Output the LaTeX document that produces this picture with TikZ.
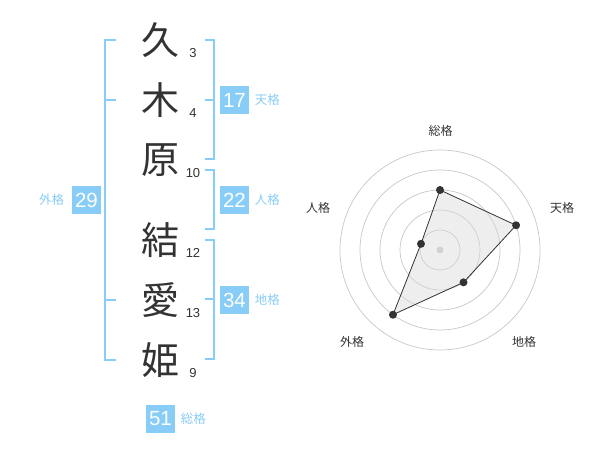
\documentclass[tikz,border=0pt]{standalone}
\usepackage{fontspec}
\setmainfont{Noto Sans CJK JP}
\newfontfamily\digits{Liberation Sans}
\usetikzlibrary{positioning,calc}
\definecolor{kakublue}{HTML}{88CCF8}
\definecolor{inkgray}{HTML}{333333}

\begin{document}
\begin{tikzpicture}[x=1pt,y=-1pt,thick]
        %
        % `kanji' is used for the name characters, `strokes' for their counts.
        % `score' is used for the blue boxes, `kaku' for their labels.
        % `dot' is used for the radar points.
        \tikzstyle{kanji} = [text=inkgray,font=\fontsize{38}{38}\selectfont,inner sep=0pt]
        \tikzstyle{strokes} = [text=inkgray,font=\digits\fontsize{13}{13}\selectfont,inner sep=0pt]
        \tikzstyle{score} = [fill=kakublue,text=white,font=\digits\fontsize{20.5}{20.5}\selectfont,minimum width=29pt,minimum height=28pt,inner sep=0pt]
        \tikzstyle{kaku} = [text=kakublue,font=\fontsize{12.5}{12.5}\selectfont,inner sep=0pt]
        \tikzstyle{bracket} = [draw=kakublue,line width=2pt]
        \tikzstyle{ring} = [draw=black!22,line width=0.7pt]
        \tikzstyle{axis} = [text=inkgray,font=\fontsize{12}{12}\selectfont,inner sep=0pt]
        \tikzstyle{dot} = [fill=inkgray,shape=circle,minimum size=8pt,inner sep=0pt]
        %
        \useasboundingbox (0,0) rectangle (600,470);
        %
        % Name
        \node[kanji] (k1) at (160,40) {久};
        \node[kanji] (k2) at (160,100) {木};
        \node[kanji] (k3) at (160,160) {原};
        \node[kanji] (k4) at (160,240) {結};
        \node[kanji] (k5) at (160,300) {愛};
        \node[kanji] (k6) at (160,360) {姫};
        %
        % Strokes
        \node[strokes] (n1) at (193,53) {3};
        \node[strokes] (n2) at (193,113) {4};
        \node[strokes] (n3) at (193,173) {10};
        \node[strokes] (n4) at (193,253) {12};
        \node[strokes] (n5) at (193,313) {13};
        \node[strokes] (n6) at (193,373) {9};
        %
        % Left bracket
        \draw[bracket] (116,40) -- (105,40) -- (105,360) -- (116,360);
        \draw[bracket] (105,100) -- (116,100);
        \draw[bracket] (105,300) -- (116,300);
        \node[score] (gai) at (86.5,200) {29};
        \node[kaku,left=7pt of gai] (gailabel) {外格};
        %
        % Right brackets
        \draw[bracket] (205,40) -- (214,40) -- (214,159) -- (205,159);
        \draw[bracket] (205,100) -- (214,100);
        \node[score] (ten) at (234.5,100) {17};
        \node[kaku,right=5pt of ten] (tenlabel) {天格};
        %
        \draw[bracket] (205,170) -- (214,170) -- (214,229) -- (205,229);
        \node[score] (jin) at (234.5,200) {22};
        \node[kaku,right=5pt of jin] (jinlabel) {人格};
        %
        \draw[bracket] (205,240) -- (214,240) -- (214,359) -- (205,359);
        \draw[bracket] (205,299) -- (214,299);
        \node[score] (chi) at (234.5,300) {34};
        \node[kaku,right=5pt of chi] (chilabel) {地格};
        %
        % Total
        \node[score] (sou) at (160.5,419) {51};
        \node[kaku,right=5pt of sou] (soulabel) {総格};
        %
        % Radar
        \coordinate (c) at (440,250);
        \draw[ring] (c) circle (20);
        \draw[ring] (c) circle (40);
        \draw[ring] (c) circle (60);
        \draw[ring] (c) circle (80);
        \draw[ring] (c) circle (100);
        \fill[black!20] (c) circle (3.5);
        %
        \node[axis] (asou) at (440.5,130.5) {総格};
        \node[axis] (aten) at (562,208) {天格};
        \node[axis] (achi) at (524,342) {地格};
        \node[axis] (agai) at (352,342) {外格};
        \node[axis] (ajin) at (318,208) {人格};
        %
        \coordinate (psou) at ($(c)+(-90:60)$);
        \coordinate (pten) at ($(c)+(-18:80)$);
        \coordinate (pchi) at ($(c)+(54:40)$);
        \coordinate (pgai) at ($(c)+(126:80)$);
        \coordinate (pjin) at ($(c)+(198:20)$);
        \fill[black!15,fill opacity=0.45] (psou) -- (pten) -- (pchi) -- (pgai) -- (pjin) -- cycle;
        \draw[inkgray,line width=0.8pt] (psou) -- (pten) -- (pchi) -- (pgai) -- (pjin) -- cycle;
        \node[dot] (dsou) at (psou) {};
        \node[dot] (dten) at (pten) {};
        \node[dot] (dchi) at (pchi) {};
        \node[dot] (dgai) at (pgai) {};
        \node[dot] (djin) at (pjin) {};
        %
\end{tikzpicture}
\end{document}
